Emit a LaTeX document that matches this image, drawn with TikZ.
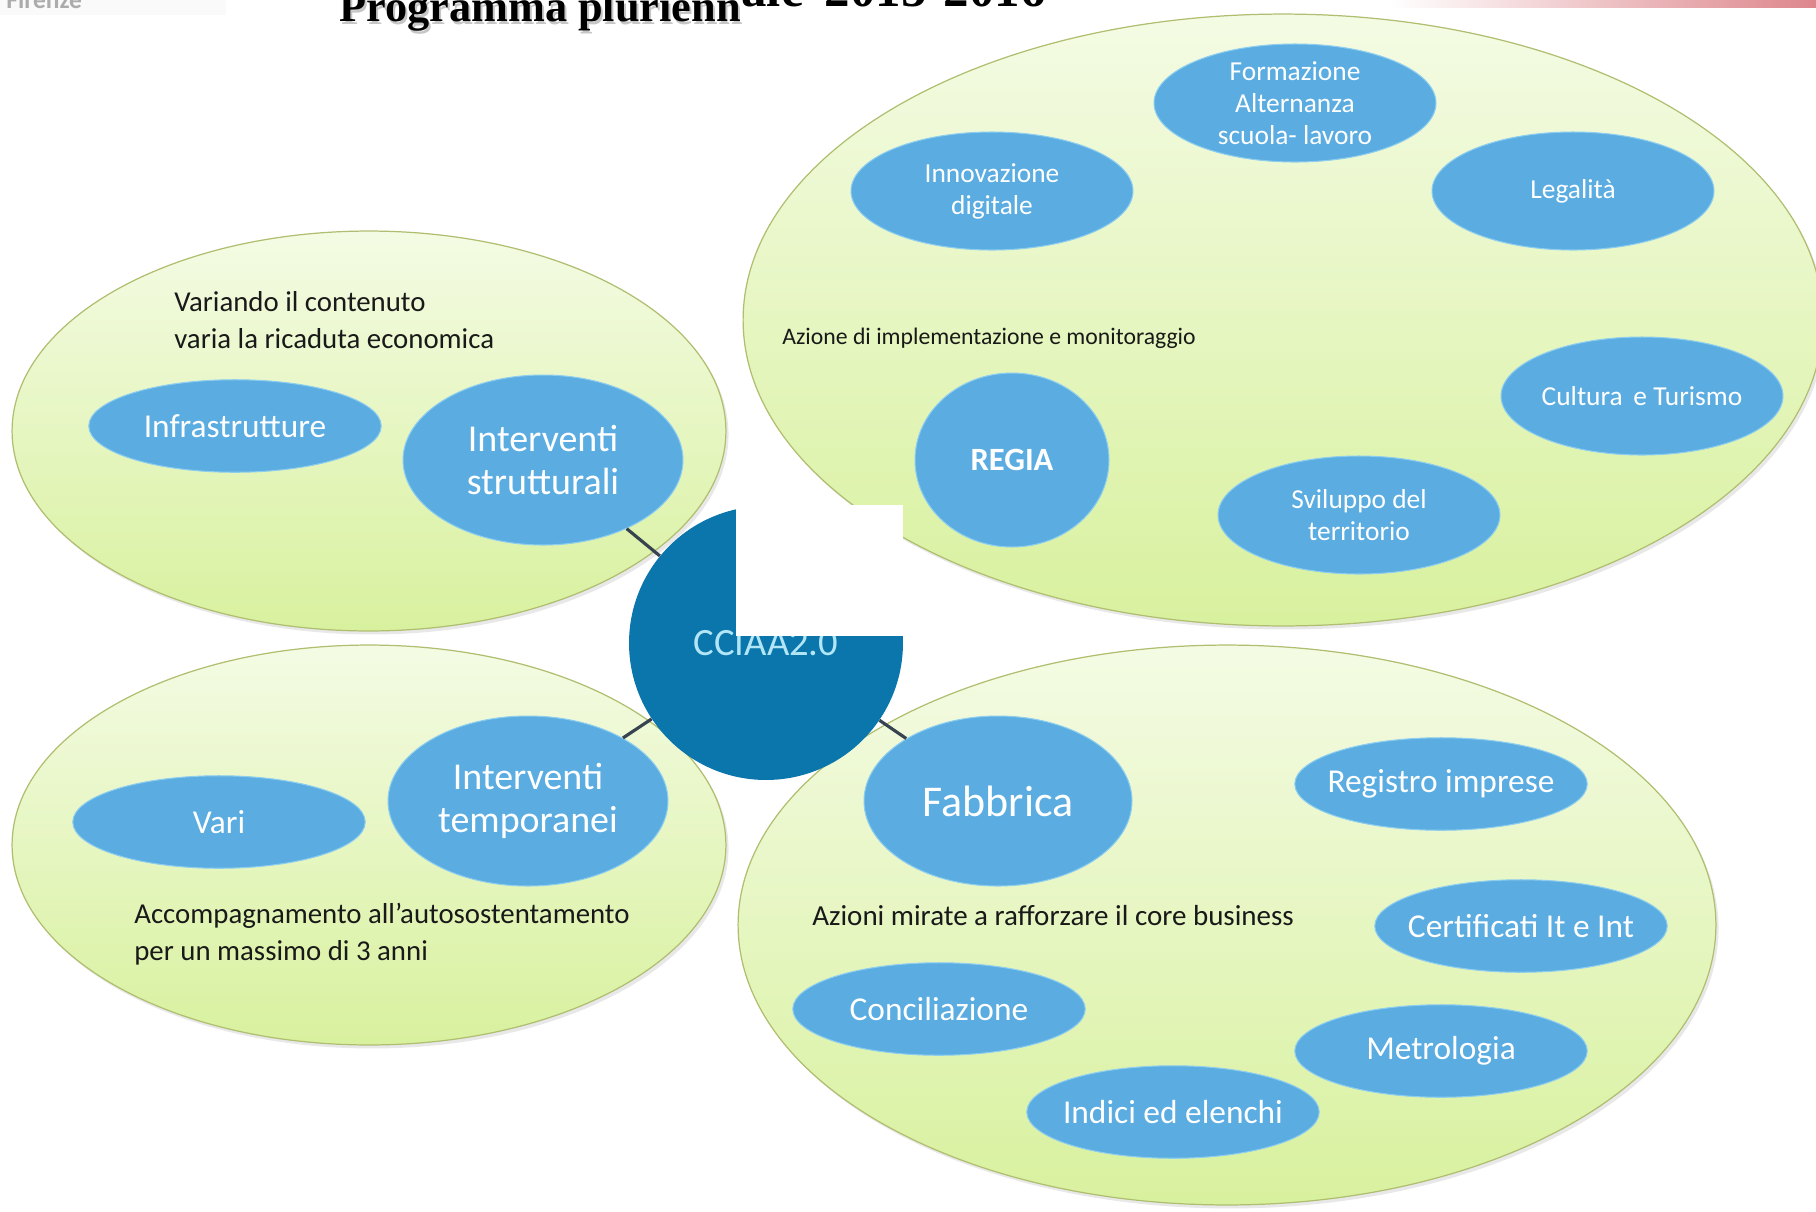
\documentclass[tikz,border=0pt]{standalone}
\usepackage{fontspec}
\setmainfont{Carlito}
\newfontfamily\titlefont{Liberation Serif}
\usepackage{tikz}
\usetikzlibrary{shapes.geometric, shadows}
\definecolor{zonatop}{RGB}{244,251,228}
\definecolor{zonabot}{RGB}{216,241,158}
\definecolor{zonaedge}{RGB}{176,190,112}
\definecolor{voceblue}{RGB}{90,172,225}
\definecolor{voceedge}{RGB}{140,205,240}
\definecolor{hubblue}{RGB}{10,118,172}
\definecolor{hubtext}{RGB}{178,230,246}
\definecolor{linkgray}{RGB}{55,68,80}
\definecolor{notetext}{RGB}{25,25,25}
\definecolor{barpink}{RGB}{221,134,140}
\newcommand{\fsz}[2]{\fontsize{#1}{#2}\selectfont}

\begin{document}
\begin{tikzpicture}[x=0.02cm, y=-0.02cm,
    zona/.style={ellipse, draw=zonaedge, line width=0.7pt, top color=zonatop,
                 bottom color=zonabot, inner sep=0pt,
                 drop shadow={opacity=0.18, shadow xshift=1.5pt, shadow yshift=-2pt}},
    % negative inner sep: the ellipse keeps its minimum size whatever the text
    voce/.style={ellipse, fill=voceblue, draw=voceedge, line width=0.6pt, text=white,
                 align=center, inner xsep=-3cm, inner ysep=-1cm,
                 minimum width=5.85cm, minimum height=1.85cm, font=\fsz{19}{22}},
    vocealta/.style={voce, minimum width=5.64cm, minimum height=2.36cm, font=\fsz{15.6}{18.2}},
    vocegrande/.style={voce, minimum width=5.6cm, minimum height=3.4cm, font=\fsz{21.6}{24.5}},
    nota/.style={anchor=west, align=left, text=notetext, inner sep=0pt, font=\fsz{16.4}{21}},
    legame/.style={draw=linkgray, line width=1.8pt}]
    \useasboundingbox (0,0) rectangle (1816,1211);
    \clip (0,0) rectangle (1816,1211);

    %% slide header — logo strip, title, coloured bar
    \fill[gray!4] (0,0) rectangle (226,15);
    \node[anchor=base west, inner sep=0pt, text=gray!65, font=\fsz{14.5}{16}\bfseries]
      (logo) at (6,8) {Firenze};
    \shade[left color=white, right color=barpink] (1390,0) rectangle (1816,7);
    \node[anchor=base west, inner sep=0pt, text=gray!45, font=\titlefont\bfseries\fsz{25.2}{28}]
      at (341,24) {Programma plurienn};
    \node[anchor=base west, inner sep=0pt, font=\titlefont\bfseries\fsz{25.2}{28}]
      (titolo) at (339,21) {Programma plurienn};
    \node[anchor=base west, inner sep=0pt, font=\titlefont\bfseries\fsz{29}{32}]
      (titolo2) at (741,6) {ale \,2015-2016};

    %% the four areas
    \node[zona, minimum width=14.28cm, minimum height=8cm]    (zonaStrut) at (369,431) {};
    \node[zona, minimum width=14.28cm, minimum height=8cm]    (zonaTemp)  at (369,845) {};
    \node[zona, minimum width=21.6cm, minimum height=12.24cm] (zonaRegia) at (1283,320) {};
    \node[zona, minimum width=19.56cm, minimum height=11.2cm] (zonaCore)  at (1227,925) {};

    %% area 1 — interventi strutturali
    \node[nota] (notaStrut) at (174,320) {Variando il contenuto\\varia la ricaduta economica};
    \node[voce] (infra) at (235,426) {Infrastrutture};
    \node[vocegrande] (strut) at (543,460) {Interventi\\strutturali};

    %% area 2 — interventi temporanei
    \node[voce] (vari) at (219,822) {Vari};
    \node[vocegrande] (temp) at (528,801) {Interventi\\temporanei};
    \node[nota] (notaTemp) at (134,934) {Accompagnamento all’autosostentamento\\per un massimo di 3 anni};

    %% area 3 — regia
    \node[vocealta] (form)  at (1295,103) {Formazione\\Alternanza\\scuola- lavoro};
    \node[vocealta] (innov) at (992,191)  {Innovazione\\digitale};
    \node[vocealta] (legal) at (1573,191) {Legalità};
    \node[nota, font=\fsz{13.5}{16}] (notaRegia) at (782,338) {Azione di implementazione e monitoraggio};
    \node[vocealta] (cult)  at (1642,396) {Cultura \,e Turismo};
    \node[voce, minimum width=3.88cm, minimum height=3.48cm, font=\fsz{18.5}{22}\bfseries]
      (regia) at (1012,460) {REGIA};
    \node[vocealta] (svil)  at (1359,515) {Sviluppo del\\territorio};

    %% area 4 — core business
    \node[voce, minimum width=5.36cm, minimum height=3.4cm, font=\fsz{25}{28}]
      (fabb) at (998,801) {Fabbrica};
    \node[voce] (regim)  at (1441,784)  {Registro imprese};
    \node[nota, font=\fsz{16.5}{19}] (notaCore) at (812,916) {Azioni mirate a rafforzare il core business};
    \node[voce] (cert)   at (1521,926)  {Certificati It e Int};
    \node[voce] (conc)   at (939,1009)  {Conciliazione};
    \node[voce] (metr)   at (1441,1051) {Metrologia};
    \node[voce] (indici) at (1173,1112) {Indici ed elenchi};

    %% hub and its links
    \node[circle, fill=hubblue, minimum size=5.48cm, inner sep=0pt, text=hubtext,
          font=\fsz{22}{26}] (cciaa) at (766,643) {CCIAA2.0};
    \draw[legame] (cciaa) -- (strut);
    \draw[legame] (cciaa) -- (temp);
    \draw[legame] (cciaa) -- (fabb);

    %% white patch over the hub
    \fill[white] (736,505) rectangle (903,636);
\end{tikzpicture}
\end{document}
